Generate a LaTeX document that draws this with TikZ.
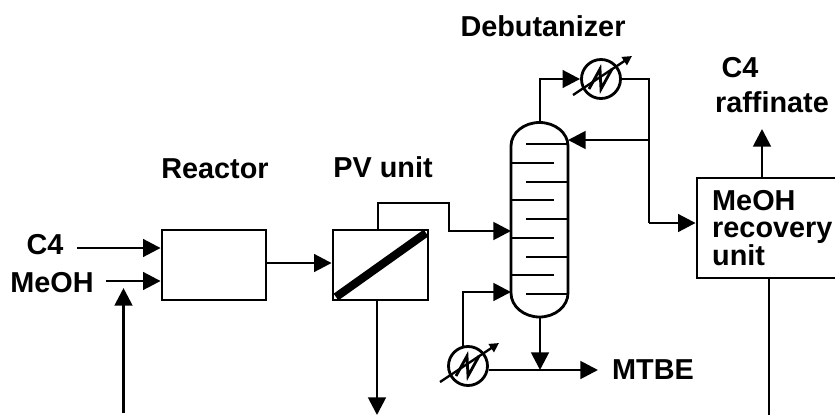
\documentclass[tikz,border=0pt]{standalone}
\usepackage{fontspec}
\setmainfont{Liberation Sans}
\usetikzlibrary{arrows.meta,positioning}
\tikzset{
    lbl/.style={inner sep=0pt,font=\fontsize{24.6}{29}\selectfont\bfseries},
    unitbox/.style={draw,line width=2.4pt,inner sep=0pt,minimum width=#1},
    flow/.style={line width=2.4pt,-{Triangle[length=15pt,width=15pt]}},
    pipe/.style={line width=2.4pt},
    hex/.style={circle,draw,line width=2.4pt,minimum size=1.17cm,inner sep=0pt}
}
\begin{document}
\begin{tikzpicture}[x=0.03cm,y=-0.03cm]
    \useasboundingbox (0,0) rectangle (835,415);

    % labels
    \node[lbl] (debut) at (543,26) {Debutanizer};
    \node[lbl] (react) at (215,169) {Reactor};
    \node[lbl] (pvlab) at (383,167) {PV unit};
    \node[lbl] (cfour) at (45,245) {C4};
    \node[lbl] (meoh) at (52,283) {MeOH};
    \node[lbl,anchor=west] (mtbe) at (612,370) {MTBE};
    \node[lbl] (cfourb) at (740,68) {C4};
    \node[lbl] (raff) at (772,102) {raffinate};

    % units
    \node[unitbox=3.12cm,minimum height=2.1cm] (reactor) at (214,265) {};
    \node[unitbox=2.85cm,minimum height=2.1cm] (pv) at (380.5,265) {};
    \draw[line width=7pt] (336,297) -- (426,233);
    \node[unitbox=4.17cm,minimum height=3cm] (recovery) at (766.5,228) {};
    \node[lbl,anchor=west,align=left,font=\fontsize{24.6}{22.6}\selectfont\bfseries] (reclab) at (712,228) {MeOH\\recovery\\unit};

    % column
    \draw[line width=2.4pt] (511,146) arc[start angle=180,end angle=360,x radius=28.5,y radius=23.5]
        -- (568,293) arc[start angle=0,end angle=180,x radius=28.5,y radius=24] -- cycle;
    \coordinate (coltop) at (540,122);
    \coordinate (colbot) at (540,317);
    \foreach \y in {144,182,219,257,294}
        \draw[pipe] (526,\y) -- (568,\y);
    \foreach \y in {163,200,238,275}
        \draw[pipe] (511,\y) -- (554,\y);

    % exchangers
    \node[hex] (top) at (601,79) {};
    \node[hex] (bot) at (468,366) {};
    \foreach \n in {top,bot} {
        \draw[pipe] ([shift={(-12,10)}]\n.center) -- ([shift={(-1,-10)}]\n.center)
            -- ([shift={(0,10)}]\n.center) -- ([shift={(11,-10)}]\n.center);
        \draw[line width=2pt,-{Triangle[length=8pt,width=8pt]}] ([shift={(-28,16)}]\n.center) -- ([shift={(31,-23)}]\n.center);
    }

    % streams
    \coordinate (cfourin) at (77,248);
    \coordinate (meohin) at (106,281);
    \coordinate (recyc) at (123.5,413);
    \coordinate (recyctip) at (123.5,288);
    \draw[flow] (cfourin) -- (reactor.west |- cfourin);
    \draw[flow] (meohin) -- (reactor.west |- meohin);
    \draw[flow] (recyc) -- (recyctip);
    \draw[flow] (reactor.east |- 0,263) -- (pv.west |- 0,263);
    \draw[flow] (378,230) -- (378,203) -- (449,203) -- (449,231) -- (511,231);
    \coordinate (pvout) at (377,415);
    \draw[flow] (377,300) -- (pvout);
    \draw[flow] (coltop) -- (540,79) -- (top.west);
    \draw[pipe] (top.east) -- (649,79) -- (649,223);
    \draw[flow] (649,140) -- (568,140);
    \draw[flow] (649,223) -- (recovery.west |- 0,223);
    \draw[flow] (463,347) -- (463,292) -- (511,292);
    \draw[flow] (colbot) -- (540,370);
    \draw[flow] (bot.east |- 0,370) -- (598,370);
    \draw[flow] (recovery.north -| 762,0) -- (762,129);
    \coordinate (recout) at (769,415);
    \draw[pipe] (recovery.south -| recout) -- (recout);
\end{tikzpicture}
\end{document}
